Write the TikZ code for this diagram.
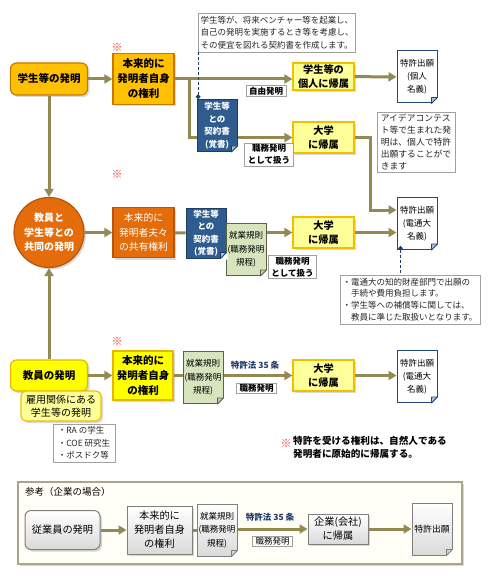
\documentclass[tikz,border=0pt]{standalone}
\usepackage{fontspec}
\setmainfont{Noto Sans CJK JP}
\usetikzlibrary{arrows.meta,shadows}
\definecolor{flowOlive}{HTML}{938953}
\definecolor{amberFill}{HTML}{FFC000}
\definecolor{amberLine}{HTML}{C47A00}
\definecolor{orangeFill}{HTML}{E46C0A}
\definecolor{orangeLine}{HTML}{B85507}
\definecolor{yellowFill}{HTML}{FFFF00}
\definecolor{yellowLine}{HTML}{E8B500}
\definecolor{paleFill}{HTML}{FFFF99}
\definecolor{paleLine}{HTML}{F0C000}
\definecolor{pactBlue}{HTML}{2F5C8F}
\definecolor{pactLine}{HTML}{1F3D63}
\definecolor{ruleFill}{HTML}{D7E4BD}
\definecolor{ruleLine}{HTML}{5A6440}
\definecolor{patentLine}{HTML}{1F497D}
\definecolor{noteLine}{HTML}{A0A0A0}
\definecolor{refFill}{HTML}{DADADA}
\definecolor{refLine}{HTML}{7F7F7F}
\definecolor{frameLine}{HTML}{A8A58C}
\definecolor{markRed}{HTML}{FF3B3B}
\definecolor{lawBlue}{HTML}{1F3864}
\tikzset{
  flow/.style={-{Triangle[length=8pt,width=9pt]}, line width=3pt, draw=flowOlive},
  link/.style={line width=3pt, draw=flowOlive},
  pact dash/.style={-{Circle[length=4.5pt]}, densely dashed, line width=1pt,
    draw=pactLine},
  box shadow/.style={drop shadow={shadow xshift=2pt, shadow yshift=-2pt,
    opacity=0.3}},
  base box/.style={rectangle, align=center, inner sep=1pt, line width=1.2pt,
    box shadow},
  amber box/.style={base box, fill=amberFill, draw=amberLine,
    font=\fontsize{10.5}{15}\selectfont\bfseries},
  orange box/.style={base box, fill=orangeFill, draw=orangeLine, text=white,
    font=\fontsize{9.8}{14.5}\selectfont},
  yellow box/.style={base box, fill=yellowFill, draw=yellowLine,
    font=\fontsize{10.5}{15}\selectfont\bfseries},
  owner box/.style={base box, fill=paleFill, draw=paleLine,
    minimum width=61pt, font=\fontsize{10.2}{13.5}\selectfont\bfseries},
  ref box/.style={base box, top color=white, bottom color=refFill,
    draw=refLine, line width=1pt, font=\fontsize{10.2}{14}\selectfont},
  doc/.style={rectangle, align=center, inner sep=1pt, minimum width=40pt,
    minimum height=52pt, line width=1pt},
  pact doc/.style={doc, fill=pactBlue, draw=pactLine, text=white,
    font=\fontsize{8.5}{12.5}\selectfont\bfseries},
  rule doc/.style={doc, fill=ruleFill, draw=ruleLine,
    font=\fontsize{8.5}{13.5}\selectfont},
  patent doc/.style={doc, fill=white, draw=patentLine,
    font=\fontsize{8.5}{13}\selectfont},
  ref doc/.style={doc, top color=white, bottom color=refFill, draw=refLine,
    font=\fontsize{8.5}{13.5}\selectfont},
  note/.style={draw=noteLine, fill=white, align=left, inner sep=2pt,
    line width=0.8pt, text=black!85, font=\fontsize{8.5}{12.5}\selectfont},
  tag/.style={draw=noteLine, fill=white, align=center, inner xsep=3pt,
    inner ysep=1.5pt, line width=0.8pt, font=\fontsize{8.5}{12}\selectfont\bfseries},
  law/.style={text=lawBlue, font=\fontsize{8.5}{10}\selectfont\bfseries},
  kome/.style={text=markRed, font=\fontsize{11}{11}\selectfont, inner sep=0pt}
}

\begin{document}
\begin{tikzpicture}[x=1pt,y=-1pt]
  \useasboundingbox (0,0) rectangle (490,580);

  % student row
  \node[amber box, rounded corners=6pt, minimum width=77pt, minimum height=32pt]
    (stuInv) at (49,79) {学生等の発明};
  \node[kome] (kome1) at (117,47) {※};
  \node[amber box, minimum width=61pt, minimum height=51pt] (ownR1)
    at (143.5,79) {本来的に\\発明者自身\\の権利};
  \node[owner box, minimum height=27pt] (indiv) at (323.5,76.5)
    {学生等の\\個人に帰属};
  \node[patent doc] (patInd) at (417,77) {特許出願\\(個人\\名義)};
  \node[tag] (freeLbl) at (266,91) {自由発明};
  \node[note, minimum width=156pt, minimum height=39pt] (noteVenture)
    at (277,32.5) {学生等が、将来ベンチャー等を起業し、\\
    自己の発明を実施するとき等を考慮し、\\その便宜を図れる契約書を作成します。};
  \node[owner box, minimum height=31pt] (univ1) at (323.5,137.5) {大学\\に帰属};
  \node[tag] (dutyLbl1) at (269,154.5) {職務発明\\として扱う};
  \node[note, font=\fontsize{8.8}{12}\selectfont, minimum width=78pt,
    minimum height=60pt] (noteContest) at (416,142)
    {アイデアコンテス\\ト等で生まれた発\\明は、個人で特許\\出願することがで\\きます};
  \coordinate (split1) at (189,79);
  \draw[flow] (stuInv) -- (ownR1);
  \draw[flow] (ownR1) -- (ownR1 -| indiv.west);
  \draw[flow] (split1) |- (univ1);
  \draw[flow] (indiv) -- (patInd);
  \node[pact doc] (contract1) at (217,125.5) {学生等\\との\\契約書\\(覚書)};
  \draw[pact dash] (noteVenture.south west) -- (noteVenture.south west |- contract1.north);

  % joint row
  \node[circle, minimum size=70pt, inner sep=0pt, fill=orangeFill, draw=orangeLine,
    line width=1.2pt, text=white, align=center, box shadow,
    font=\fontsize{10}{14.5}\selectfont\bfseries] (jointInv) at (49,232.5)
    {教員と\\学生等との\\共同の発明};
  \node[kome] (kome2) at (117,174) {※};
  \node[orange box, minimum width=61pt, minimum height=50pt] (ownShared)
    at (143.5,232.5) {本来的に\\発明者夫々\\の共有権利};
  \node[pact doc, minimum height=50pt] (contract2) at (206,233)
    {学生等\\との\\契約書\\(覚書)};
  \node[rule doc] (rules2) at (246,249.5) {就業規則\\(職務発明\\規程)};
  \node[owner box, minimum height=31pt] (univ2) at (323.5,232.5) {大学\\に帰属};
  \node[tag] (dutyLbl2) at (292.5,267) {職務発明\\として扱う};
  \node[patent doc] (patUni) at (417,223.5) {特許出願\\(電通大\\名義)};
  \node[note, font=\fontsize{8.5}{11.8}\selectfont, minimum width=140pt,
    minimum height=49pt] (noteFee) at (410,299.5)
    {・電通大の知的財産部門で出願の\\　手続や費用負担します。\\
    ・学生等への補償等に関しては、\\　教員に準じた取扱いとなります。};
  \draw[flow] (stuInv) -- (jointInv);
  \draw[flow] (jointInv) -- (ownShared);
  \draw[link] (ownShared) -- (contract2);
  \draw[flow] (rules2.east |- univ2) -- (univ2);
  \draw[flow] (univ1.east) -- ++(16,0) |- ([yshift=13.5pt]patUni.west);
  \draw[flow] (univ2.east) -- (univ2.east -| patUni.west);
  \draw[pact dash, {Circle[length=4.5pt]}-] ([xshift=4pt,yshift=4pt]patUni.south west)
    -- ([xshift=4pt]patUni.south west |- noteFee.north);

  % teacher row
  \node[yellow box, rounded corners=6pt, minimum width=77pt, minimum height=31pt]
    (teachInv) at (49,375.5) {教員の発明};
  \node[base box, rounded corners=5pt, fill=paleFill, draw=paleLine,
    minimum width=80pt, minimum height=30pt, font=\fontsize{10}{13}\selectfont]
    (empStu) at (61,406) {雇用関係にある\\学生等の発明};
  \node[note, minimum width=62pt, minimum height=38pt] (raBox) at (84,443)
    {・RA の学生\\・COE 研究生\\・ポスドク等};
  \node[kome] (kome3) at (117,341) {※};
  \node[yellow box, minimum width=60pt, minimum height=49pt] (ownR3)
    at (143,375.5) {本来的に\\発明者自身\\の権利};
  \node[rule doc] (rules3) at (203,377.5) {就業規則\\(職務発明\\規程)};
  \node[owner box, minimum height=31pt] (univ3) at (323.5,375.5) {大学\\に帰属};
  \node[law] (law3) at (255,365) {特許法 35 条};
  \node[tag, inner ysep=1pt] (dutyLbl3) at (256.5,388.5) {職務発明};
  \node[patent doc] (patUni3) at (417,376.5) {特許出願\\(電通大\\名義)};
  \draw[flow] (teachInv) -- (jointInv);
  \draw[flow] (teachInv) -- (ownR3);
  \draw[link] (ownR3.east) -- (ownR3.east -| rules3.west);
  \draw[flow] (rules3.east |- univ3) -- (univ3);
  \draw[flow] (univ3) -- (univ3 -| patUni3.west);

  % footnote
  \node[kome] (kome4) at (286,443) {※};
  \node[anchor=north west, align=left, inner sep=0pt,
    font=\fontsize{9.6}{12.5}\selectfont\bfseries] (footText) at (293,436)
    {特許を受ける権利は、自然人である\\発明者に原始的に帰属する。};

  % company reference
  \node[draw=frameLine, fill=white!97!yellow, line width=1.5pt, box shadow,
    minimum width=444pt, minimum height=82pt] (refPanel) at (240,523) {};
  \node[anchor=west, inner sep=0pt, font=\fontsize{9.5}{11}\selectfont]
    (refTitle) at (25,492) {参考（企業の場合）};
  \node[ref box, rounded corners=6pt, minimum width=75pt, minimum height=39pt]
    (empInv) at (62.5,530) {従業員の発明};
  \node[ref box, minimum width=65pt, minimum height=48pt] (ownRef)
    at (159.5,530) {本来的に\\発明者自身\\の権利};
  \node[ref doc] (rulesRef) at (217,530) {就業規則\\(職務発明\\規程)};
  \node[law] (lawRef) at (270,517) {特許法 35 条};
  \node[tag, inner ysep=1pt, font=\fontsize{8.5}{12}\selectfont] (dutyRef)
    at (272.5,541) {職務発明};
  \node[ref box, minimum width=60pt, minimum height=30pt] (compRef) at (338,529)
    {企業(会社)\\に帰属};
  \node[ref doc, font=\fontsize{8.8}{12}\selectfont] (patRef) at (432,529) {特許出願};
  \draw[flow] (empInv) -- (ownRef);
  \draw[link] (ownRef) -- (rulesRef);
  \draw[flow] (rulesRef.east |- compRef) -- (compRef);
  \draw[flow] (compRef) -- (patRef);

  % folded corners
  \foreach \d/\c in {patInd/patentLine, contract1/pactLine, contract2/pactLine,
      rules2/ruleLine, patUni/patentLine, rules3/ruleLine, patUni3/patentLine,
      rulesRef/refLine, patRef/refLine} {
    \fill[white] ([xshift=-7pt,yshift=-1pt]\d.south east) -- ([xshift=1pt,yshift=-1pt]\d.south east)
      -- ([xshift=1pt,yshift=7pt]\d.south east) -- cycle;
    \filldraw[fill=\c!35, draw=\c, line width=0.8pt, line join=round]
      ([xshift=-6pt]\d.south east) -- ([yshift=6pt]\d.south east)
      -- ([xshift=-6pt,yshift=6pt]\d.south east) -- cycle;
  }
\end{tikzpicture}
\end{document}
